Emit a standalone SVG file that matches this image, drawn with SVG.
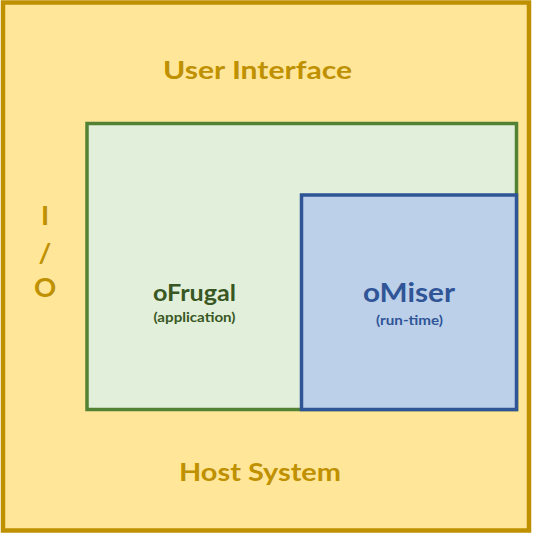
<svg xmlns="http://www.w3.org/2000/svg" width="533" height="533" viewBox="0 0 533 533">
  <style>
    text { font-family: Lato, "Open Sans", "Noto Sans", sans-serif; font-weight: bold; text-anchor: middle; }
    .host { fill: #bf9000; font-size: 25px; }
    .io { fill: #bf9000; font-size: 27.5px; }
    .green { fill: #385723; }
    .blue { fill: #2f5597; }
  </style>
  <g id="host">
    <rect x="3" y="2.5" width="526" height="528" fill="#ffe699" stroke="#bf9000" stroke-width="4.5"/>
    <text class="host" x="257.5" y="79" textLength="189" lengthAdjust="spacingAndGlyphs">User Interface</text>
    <text class="io" x="45" y="225">I</text>
    <text class="io" x="45" y="263">/</text>
    <text class="io" x="45" y="297">O</text>
    <text class="host" x="260" y="481" textLength="162" lengthAdjust="spacingAndGlyphs">Host System</text>
  </g>
  <g id="ofrugal">
    <rect x="87" y="123.5" width="429.5" height="286" fill="#e2efda" stroke="#548235" stroke-width="3.5"/>
    <text class="green" x="194.5" y="301" font-size="22" textLength="83" lengthAdjust="spacingAndGlyphs">oFrugal</text>
    <text class="green" x="194.5" y="322" font-size="13.5" textLength="82" lengthAdjust="spacingAndGlyphs">(application)</text>
  </g>
  <g id="omiser">
    <rect x="301.5" y="195" width="215" height="214.5" fill="#bdd0e9" stroke="#2f5597" stroke-width="3.5"/>
    <text class="blue" x="409" y="302" font-size="26.5" textLength="92" lengthAdjust="spacingAndGlyphs">oMiser</text>
    <text class="blue" x="409.5" y="325" font-size="13.5" textLength="67" lengthAdjust="spacingAndGlyphs">(run-time)</text>
  </g>
  <g id="connectors"/>
</svg>
